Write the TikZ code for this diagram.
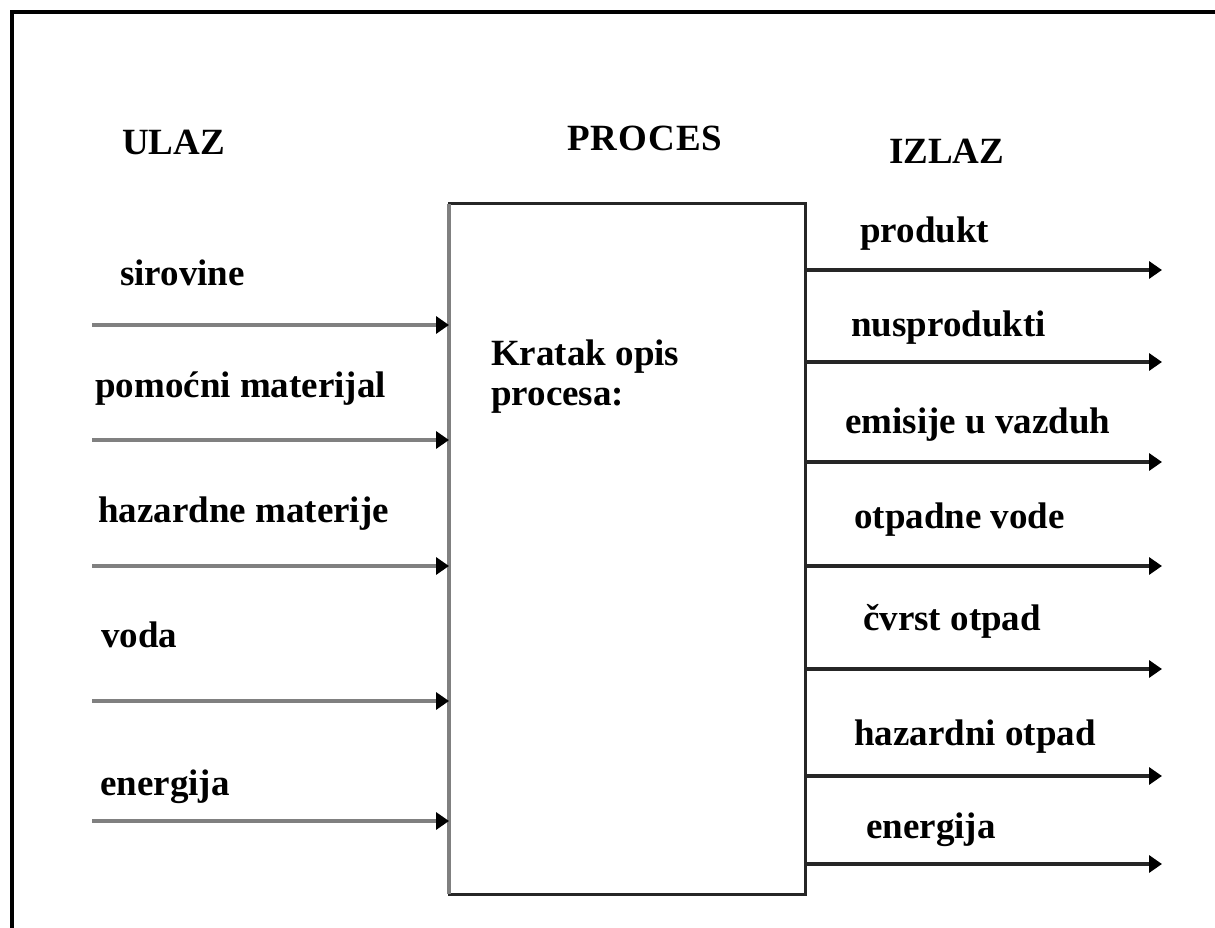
\documentclass[tikz,border=0pt]{standalone}
\usepackage{fontspec}
\setmainfont{Liberation Serif}
\usetikzlibrary{arrows.meta}
\definecolor{ingray}{HTML}{808080}
\definecolor{outdark}{HTML}{262626}
\begin{document}
\begin{tikzpicture}[x=1pt,y=-1pt,
  lbl/.style={anchor=base west,inner sep=0pt,font=\bfseries\fontsize{37}{40}\selectfont},
  inarrow/.style={draw=ingray,line width=4pt,-{Triangle[length=13pt,width=17pt,color=black]}},
  outarrow/.style={draw=outdark,line width=3.5pt,-{Triangle[length=13pt,width=17pt,color=black]}},
  procbox/.style={draw=outdark,line width=3pt,minimum width=356pt,minimum height=690pt,inner sep=0pt,outer sep=0pt}]
\useasboundingbox (0,0) rectangle (1215,928);
% outer frame (top and left)
\coordinate (fbl) at (12,930);
\coordinate (ftl) at (12,12);
\coordinate (ftr) at (1217,12);
\draw[line width=4pt] (fbl) -- (ftl) -- (ftr);
% headers
\node[lbl] (ulaz) at (122,155) {ULAZ};
\node[lbl] (proces) at (567,151) {P\kern1pt R\kern1pt O\kern1pt C\kern1pt E\kern1pt S};
\node[lbl] (izlaz) at (889,164) {IZLAZ};
% process box
\node[procbox] (box) at (627,549) {};
\draw[ingray,line width=4pt] (box.south west) -- (box.north west);
\node[lbl] (opis1) at (491,365) {Kratak opis};
\node[lbl] (opis2) at (491,405) {procesa:};
% inputs
\node[lbl] (l1) at (120,285) {sirovine};
\node[lbl] (l2) at (95,397) {pomoćni materijal};
\node[lbl] (l3) at (98,522) {hazardne materije};
\node[lbl] (l4) at (101,647) {voda};
\node[lbl] (l5) at (100,795) {energija};
\coordinate (i1) at (92,325);
\coordinate (i2) at (92,440);
\coordinate (i3) at (92,566);
\coordinate (i4) at (92,701);
\coordinate (i5) at (92,821);
\foreach \c in {i1,i2,i3,i4,i5}
  \draw[inarrow] (\c) -- (\c -| box.west);
% outputs
\node[lbl] (r1) at (860,242) {produkt};
\node[lbl] (r2) at (851,336) {nusprodukti};
\node[lbl] (r3) at (845,433) {emisije u vazduh};
\node[lbl] (r4) at (854,528) {otpadne vode};
\node[lbl] (r5) at (863,630) {čvrst otpad};
\node[lbl] (r6) at (854,745) {hazardni otpad};
\node[lbl] (r7) at (866,838) {energija};
\coordinate (o1) at (1162,270);
\coordinate (o2) at (1162,362);
\coordinate (o3) at (1162,462);
\coordinate (o4) at (1162,566);
\coordinate (o5) at (1162,669);
\coordinate (o6) at (1162,776);
\coordinate (o7) at (1162,864);
\foreach \c in {o1,o2,o3,o4,o5,o6,o7}
  \draw[outarrow] (\c -| box.east) -- (\c);
\end{tikzpicture}
\end{document}
